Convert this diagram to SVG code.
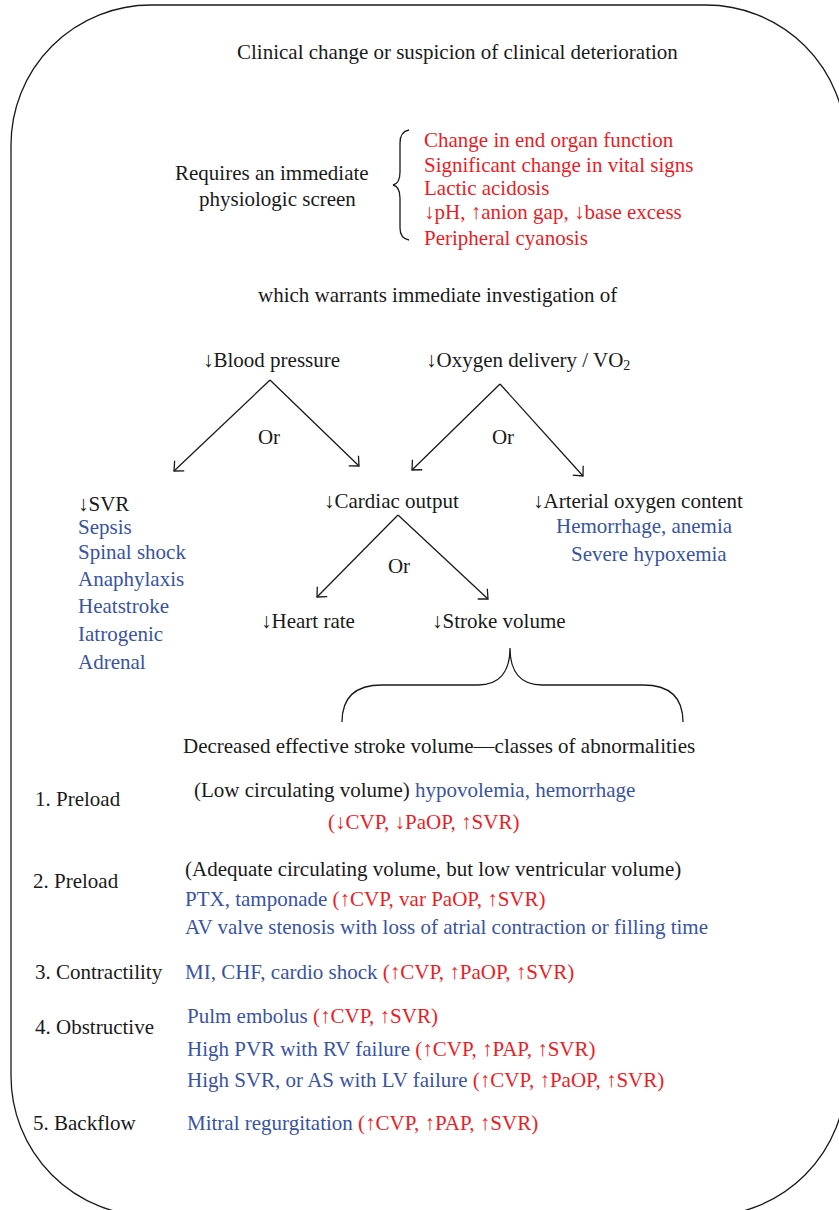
<svg xmlns="http://www.w3.org/2000/svg" width="839" height="1210" viewBox="0 0 839 1210">
<defs>
<style>
text{font-family:"Liberation Serif","Times New Roman",serif;font-size:21px;fill:#1a1a1a}
.r{fill:#ed1c24}
.b{fill:#3953a4}
.k{fill:#1a1a1a}
.ln{stroke:#1a1a1a;stroke-width:1.3;fill:none}
</style>
<marker id="ah" viewBox="0 0 10 16" refX="8.5" refY="8" markerWidth="10" markerHeight="16" markerUnits="userSpaceOnUse" orient="auto">
<path d="M1,1 L8.5,8 L1,15" fill="none" stroke="#1a1a1a" stroke-width="1.3"/>
</marker>
</defs>
<rect id="frame" x="11" y="5" width="835" height="1211" rx="140" ry="140" fill="#fff" stroke="#1a1a1a" stroke-width="1.3"/>

<g id="connectors">
<line class="ln" x1="270" y1="380" x2="174" y2="471" marker-end="url(#ah)"/>
<line class="ln" x1="270" y1="380" x2="359" y2="466" marker-end="url(#ah)"/>
<line class="ln" x1="500" y1="384" x2="412" y2="470" marker-end="url(#ah)"/>
<line class="ln" x1="500" y1="384" x2="583" y2="476" marker-end="url(#ah)"/>
<line class="ln" x1="398" y1="515" x2="317" y2="597" marker-end="url(#ah)"/>
<line class="ln" x1="398" y1="515" x2="488" y2="599" marker-end="url(#ah)"/>
<path id="brace-screen" class="ln" d="M409,130 C403,131 400,135 400,143 L400,172 C400,180 398,184 393,185 C398,186 400,190 400,198 L400,228 C400,235 403,239 409,240"/>
<path id="brace-sv" class="ln" d="M342,722 C342,700 352,685 382,685 L478,685 C499,685 510,672 510,648 C510,672 521,685 542,685 L643,685 C673,685 683,700 683,722"/>
</g>

<g id="title"><text x="237" y="59">Clinical change or suspicion of clinical deterioration</text></g>

<g id="screen">
<text x="175" y="180">Requires an immediate</text>
<text x="199" y="206">physiologic screen</text>
</g>

<g id="screen-signs">
<text class="r" x="424" y="147">Change in end organ function</text>
<text class="r" x="424" y="172">Significant change in vital signs</text>
<text class="r" x="424" y="195">Lactic acidosis</text>
<text class="r" x="424" y="219">↓pH, ↑anion gap, ↓base excess</text>
<text class="r" x="424" y="245">Peripheral cyanosis</text>
</g>

<g id="warrants"><text x="258" y="302">which warrants immediate investigation of</text></g>

<g id="bp"><text x="203" y="367">↓Blood pressure</text></g>
<g id="o2"><text x="426" y="367">↓Oxygen delivery / VO<tspan font-size="14" dy="3">2</tspan></text></g>

<g id="or-labels">
<text x="269" y="444" text-anchor="middle">Or</text>
<text x="503" y="444" text-anchor="middle">Or</text>
<text x="399" y="573" text-anchor="middle">Or</text>
</g>

<g id="svr">
<text x="78" y="511">↓SVR</text>
<text class="b" x="78" y="534">Sepsis</text>
<text class="b" x="78" y="559">Spinal shock</text>
<text class="b" x="78" y="586">Anaphylaxis</text>
<text class="b" x="78" y="613">Heatstroke</text>
<text class="b" x="78" y="641">Iatrogenic</text>
<text class="b" x="78" y="669">Adrenal</text>
</g>

<g id="co"><text x="324" y="508">↓Cardiac output</text></g>

<g id="cao2">
<text x="533" y="508">↓Arterial oxygen content</text>
<text class="b" x="556" y="533">Hemorrhage, anemia</text>
<text class="b" x="571" y="561">Severe hypoxemia</text>
</g>

<g id="hr"><text x="261" y="628">↓Heart rate</text></g>
<g id="sv"><text x="432" y="628">↓Stroke volume</text></g>

<g id="classes"><text x="183" y="753">Decreased effective stroke volume—classes of abnormalities</text></g>

<g id="class1">
<text x="35" y="806">1. Preload</text>
<text x="194" y="797">(Low circulating volume) <tspan class="b">hypovolemia, hemorrhage</tspan></text>
<text class="r" x="328" y="829">(↓CVP, ↓PaOP, ↑SVR)</text>
</g>

<g id="class2">
<text x="33" y="888">2. Preload</text>
<text x="185" y="876">(Adequate circulating volume, but low ventricular volume)</text>
<text class="b" x="185" y="906">PTX, tamponade <tspan class="r">(↑CVP, var PaOP, ↑SVR)</tspan></text>
<text class="b" x="185" y="934">AV valve stenosis with loss of atrial contraction or filling time</text>
</g>

<g id="class3">
<text x="35" y="979">3. Contractility</text>
<text class="b" x="185" y="979">MI, CHF, cardio shock <tspan class="r">(↑CVP, ↑PaOP, ↑SVR)</tspan></text>
</g>

<g id="class4">
<text x="35" y="1034">4. Obstructive</text>
<text class="b" x="187" y="1023">Pulm embolus <tspan class="r">(↑CVP, ↑SVR)</tspan></text>
<text class="b" x="187" y="1056">High PVR with RV failure <tspan class="r">(↑CVP, ↑PAP, ↑SVR)</tspan></text>
<text class="b" x="187" y="1087">High SVR, or AS with LV failure <tspan class="r">(↑CVP, ↑PaOP, ↑SVR)</tspan></text>
</g>

<g id="class5">
<text x="33" y="1130">5. Backflow</text>
<text class="b" x="187" y="1130">Mitral regurgitation <tspan class="r">(↑CVP, ↑PAP, ↑SVR)</tspan></text>
</g>
</svg>
